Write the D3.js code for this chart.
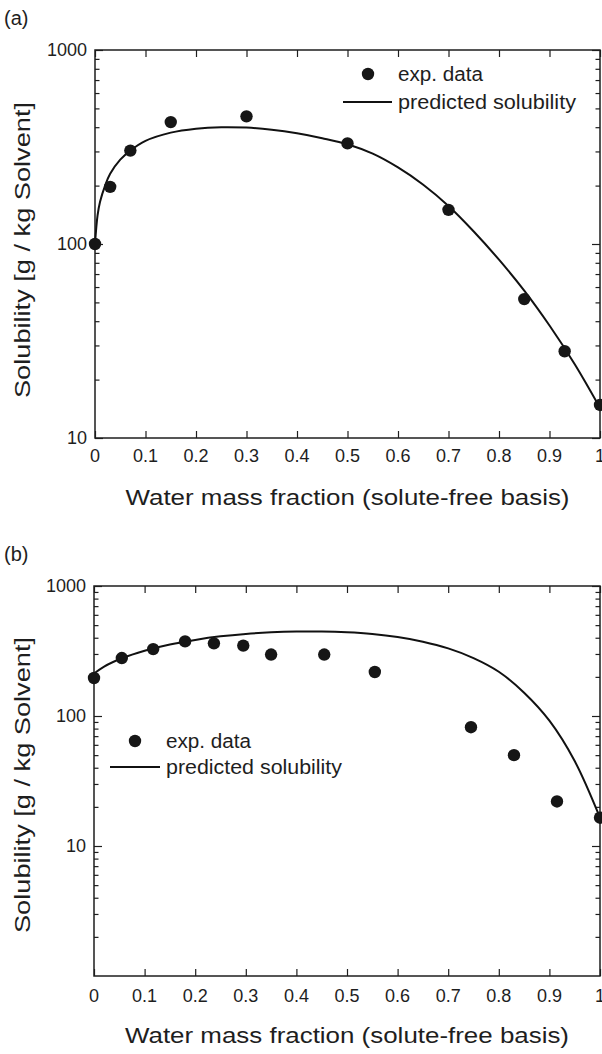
<!DOCTYPE html>
<html>
<head>
<meta charset="utf-8">
<script src="https://cdn.jsdelivr.net/npm/d3@7"></script>
<style>
  html, body { margin: 0; padding: 0; background: #fff; }
  svg { display: block; }
  text { font-family: "Liberation Sans", Arial, Helvetica, sans-serif; fill: #1e1e1e; }
</style>
</head>
<body>
<svg id="chart" width="602" height="1054"></svg>
<script>
// ---- panel (a) data ----
const expXA = [0, 0.03, 0.07, 0.15, 0.30, 0.50, 0.70, 0.85, 0.93, 1.00];
const expYA = [100, 197, 303, 425, 455, 330, 150, 52, 28, 14.8];
const predXA = [0, 0.005, 0.01, 0.02, 0.03, 0.05, 0.07, 0.10, 0.15, 0.20, 0.25, 0.30, 0.35, 0.40, 0.45, 0.50, 0.55, 0.60, 0.65, 0.70, 0.75, 0.80, 0.85, 0.90, 0.95, 1.00];
const predYA = [100, 140, 165, 200, 230, 272, 303, 340, 375, 393, 400, 398, 388, 372, 351, 327, 292, 248, 202, 157, 116, 83, 57.5, 38, 24, 14.3];

// ---- panel (b) data ----
const expXB = [0, 0.055, 0.117, 0.18, 0.237, 0.295, 0.35, 0.455, 0.555, 0.745, 0.83, 0.915, 1.00];
const expYB = [196, 279, 327, 375, 362, 348, 297, 297, 218, 82, 50, 22, 16.5];
const predXB = [0, 0.02, 0.055, 0.10, 0.15, 0.20, 0.25, 0.30, 0.35, 0.40, 0.45, 0.50, 0.55, 0.60, 0.65, 0.70, 0.75, 0.80, 0.85, 0.90, 0.95, 1.00];
const predYB = [212, 240, 278, 318, 355, 385, 410, 428, 440, 446, 446, 440, 427, 405, 373, 331, 279, 219, 151, 92, 45, 16.5];

// ---- axis labels ----
const xTickValues = [0, 0.1, 0.2, 0.3, 0.4, 0.5, 0.6, 0.7, 0.8, 0.9, 1];
const xTickLabels = ["0", "0.1", "0.2", "0.3", "0.4", "0.5", "0.6", "0.7", "0.8", "0.9", "1"];
const yTickValues = [10, 100, 1000];
const xTitle = "Water mass fraction (solute-free basis)";
const yTitle = "Solubility [g / kg Solvent]";
const legendLabels = ["exp. data", "predicted solubility"];

const svg = d3.select("#chart");
const INK = "#1e1e1e";

function drawPanel(cfg) {
  const g = svg.append("g");
  const x = d3.scaleLinear().domain([0, 1]).range([cfg.left, cfg.right]);
  const y = d3.scaleLog().domain(cfg.yDomain).range([cfg.bottom, cfg.top]);

  // minor ticks at 2..9 of every decade
  const logTicks = [];
  for (let e = Math.log10(cfg.yDomain[0]); e < Math.log10(cfg.yDomain[1]); e++) {
    for (let m = 2; m <= 9; m++) logTicks.push(m * Math.pow(10, e));
  }

  // all four sides carry inward-pointing ticks
  const leftMajor = d3.axisRight(y).tickValues(yTickValues).tickSize(8).tickFormat("");
  const leftMinor = d3.axisRight(y).tickValues(logTicks).tickSize(4.5).tickFormat("");
  const rightMajor = d3.axisLeft(y).tickValues(yTickValues).tickSize(8).tickFormat("");
  const rightMinor = d3.axisLeft(y).tickValues(logTicks).tickSize(4.5).tickFormat("");
  const bottomAx = d3.axisTop(x).tickValues(xTickValues).tickSize(7).tickFormat("");
  const topAx = d3.axisBottom(x).tickValues(xTickValues).tickSize(7).tickFormat("");

  const axes = [
    [leftMajor, `translate(${cfg.left},0)`],
    [leftMinor, `translate(${cfg.left},0)`],
    [rightMajor, `translate(${cfg.right},0)`],
    [rightMinor, `translate(${cfg.right},0)`],
    [bottomAx, `translate(0,${cfg.bottom})`],
    [topAx, `translate(0,${cfg.top})`]
  ];
  axes.forEach(([ax, tr]) => {
    const a = g.append("g").attr("transform", tr).call(ax);
    a.select(".domain").remove();
    a.selectAll("line").attr("stroke", INK).attr("stroke-width", 1.2);
  });

  // frame
  g.append("rect")
    .attr("x", cfg.left).attr("y", cfg.top)
    .attr("width", cfg.right - cfg.left).attr("height", cfg.bottom - cfg.top)
    .attr("fill", "none").attr("stroke", INK).attr("stroke-width", 1.5);

  // tick labels
  g.selectAll(".xl").data(xTickValues).join("text")
    .attr("x", d => x(d)).attr("y", cfg.bottom + cfg.xLabelGap)
    .attr("text-anchor", "middle").attr("font-size", 18)
    .text((d, i) => xTickLabels[i]);
  g.selectAll(".yl").data(yTickValues).join("text")
    .attr("x", cfg.left - 8).attr("y", d => y(d) + 6)
    .attr("text-anchor", "end").attr("font-size", 18)
    .text(d => d);

  // axis titles
  g.append("text")
    .attr("x", (cfg.left + cfg.right) / 2).attr("y", cfg.xTitleY)
    .attr("text-anchor", "middle").attr("font-size", 22)
    .attr("textLength", 444).attr("lengthAdjust", "spacingAndGlyphs")
    .text(xTitle);
  g.append("text")
    .attr("transform", `translate(${cfg.yTitleX},${cfg.yTitleCY}) rotate(-90)`)
    .attr("text-anchor", "middle").attr("font-size", 22)
    .attr("textLength", 296).attr("lengthAdjust", "spacingAndGlyphs")
    .text(yTitle);

  // panel tag
  g.append("text").attr("x", 4).attr("y", cfg.tagY).attr("font-size", 20).text(cfg.tag);

  // prediction curve
  const line = d3.line()
    .x((d, i) => x(cfg.predX[i]))
    .y(d => y(d))
    .curve(d3.curveCatmullRom.alpha(0.5));
  g.append("path").datum(cfg.predY)
    .attr("d", line).attr("fill", "none")
    .attr("stroke", "#111").attr("stroke-width", 2);

  // experimental points
  g.selectAll(".pt").data(cfg.expY).join("circle")
    .attr("cx", (d, i) => x(cfg.expX[i])).attr("cy", d => y(d))
    .attr("r", 6.2).attr("fill", "#161616");

  // legend
  const L = cfg.legend;
  g.append("circle").attr("cx", L.dotX).attr("cy", L.y1).attr("r", 6.2).attr("fill", "#161616");
  g.append("line").attr("x1", L.lineX1).attr("x2", L.lineX2)
    .attr("y1", L.y2).attr("y2", L.y2).attr("stroke", "#111").attr("stroke-width", 2);
  g.append("text").attr("x", L.textX).attr("y", L.y1 + 7).attr("font-size", 20)
    .attr("textLength", L.w1).attr("lengthAdjust", "spacingAndGlyphs").text(legendLabels[0]);
  g.append("text").attr("x", L.textX).attr("y", L.y2 + 7).attr("font-size", 20)
    .attr("textLength", L.w2).attr("lengthAdjust", "spacingAndGlyphs").text(legendLabels[1]);
}

drawPanel({
  tag: "(a)", tagY: 25,
  left: 95, right: 600, top: 50, bottom: 438,
  yDomain: [10, 1000],
  xLabelGap: 24, xTitleY: 505, yTitleX: 30, yTitleCY: 250,
  expX: expXA, expY: expYA, predX: predXA, predY: predYA,
  legend: { dotX: 368, lineX1: 343, lineX2: 392, textX: 398, y1: 74, y2: 102, w1: 85, w2: 178 }
});

drawPanel({
  tag: "(b)", tagY: 561,
  left: 94, right: 600, top: 586, bottom: 976,
  yDomain: [1, 1000],
  xLabelGap: 26, xTitleY: 1043, yTitleX: 30, yTitleCY: 785,
  expX: expXB, expY: expYB, predX: predXB, predY: predYB,
  legend: { dotX: 135, lineX1: 110, lineX2: 160, textX: 166, y1: 741, y2: 767, w1: 85, w2: 176 }
});
</script>
</body>
</html>
